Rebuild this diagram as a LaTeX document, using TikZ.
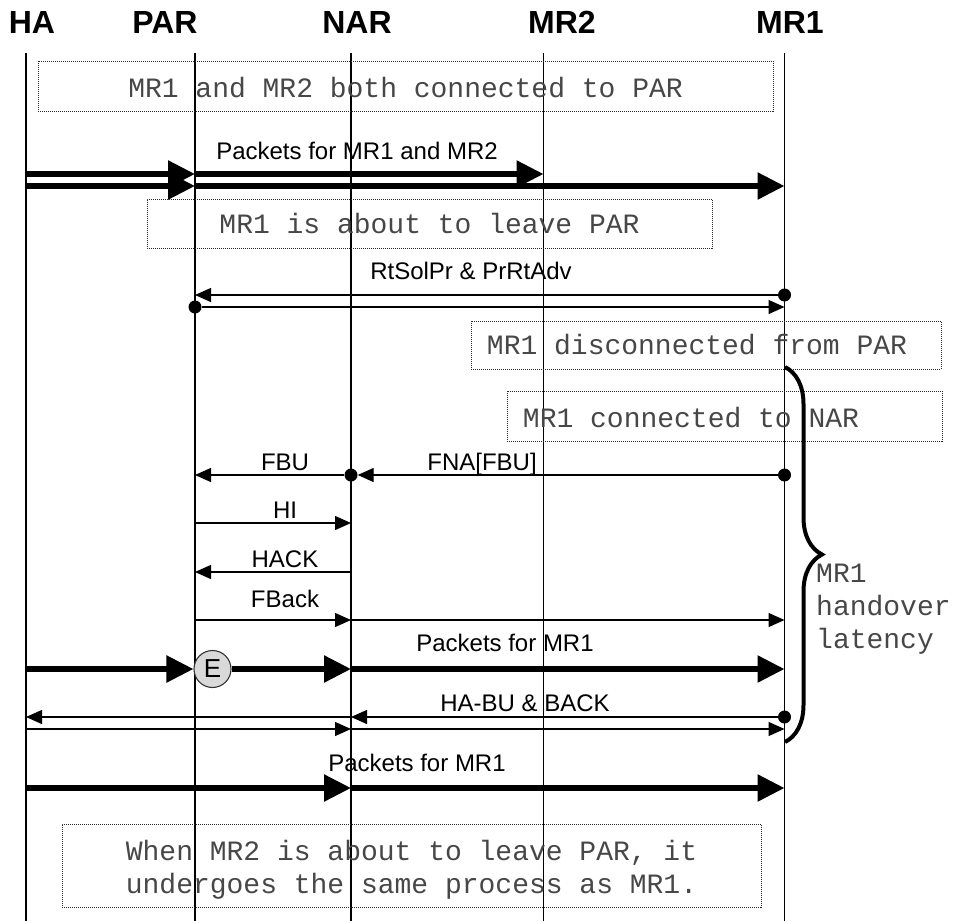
\documentclass[tikz,border=0pt]{standalone}
\usepackage{fontspec}
\setmainfont{Liberation Sans}
\newfontfamily\notefont{Liberation Mono}
\usetikzlibrary{arrows.meta,decorations.pathreplacing}

\begin{document}
\begin{tikzpicture}[x=1pt,y=-1pt,
  lifeline/.style={line width=1.3pt},
  msg/.style={line width=1.3pt,-{Triangle[length=16pt,width=14pt]}},
  flow/.style={line width=5.5pt,-{Triangle[length=27pt,width=26pt]}},
  dot/.style={circle,fill=black,inner sep=0pt,minimum size=13pt},
  header/.style={font=\fontsize{32}{38}\selectfont\bfseries,anchor=base,inner sep=0pt},
  lbl/.style={font=\fontsize{24}{28}\selectfont,anchor=base,inner sep=0pt},
  enode/.style={circle,draw=black!80,line width=1.1pt,fill=black!15,inner sep=0pt,minimum size=37pt,font=\fontsize{26}{30}\selectfont},
  note/.style={draw=black!85,line width=1pt,dash pattern=on 1pt off 1pt,inner sep=0pt},
  notetext/.style={font=\notefont\fontsize{28}{33}\selectfont,text=black!72,anchor=base,inner sep=0pt},
  ]
% canvas
\fill[white] (0,0) rectangle (953,921);
\useasboundingbox (0,0) rectangle (953,921);

% entity names
\node[header] (hHA)  at (32,33)  {HA};
\node[header] (hPAR) at (165,33) {PAR};
\node[header] (hNAR) at (357,33) {NAR};
\node[header] (hMR2) at (562,33) {MR2};
\node[header] (hMR1) at (790,33) {MR1};

% lifelines
\coordinate (ha)  at (26,53);
\coordinate (par) at (195,53);
\coordinate (nar) at (351,53);
\coordinate (mr2) at (543.5,53);
\coordinate (mr1) at (784.5,53);
\coordinate (end) at (0,921);
\foreach \l in {ha,par,nar,mr2,mr1}
  \draw[lifeline] (\l) -- (\l|-end);

% state notes
\node[note,minimum width=735pt,minimum height=50pt] (n1) at (405.5,86) {};
\node[notetext] (t1) at (405.5,97) {MR1 and MR2 both connected to PAR};
\node[note,minimum width=565pt,minimum height=49pt] (n2) at (429.5,223.5) {};
\node[notetext] (t2) at (429.5,233) {MR1 is about to leave PAR};
\node[note,minimum width=470pt,minimum height=48pt] (n3) at (706,345) {};
\node[notetext] (t3) at (697,354) {MR1 disconnected from PAR};
\node[note,minimum width=435pt,minimum height=50pt] (n4) at (724.5,416) {};
\node[notetext] (t4) at (691,427) {MR1 connected to NAR};
\node[note,minimum width=699pt,minimum height=83pt] (n5) at (411.5,865.5) {};
\node[notetext] (t5a) at (411.5,860) {When MR2 is about to leave PAR, it};
\node[notetext] (t5b) at (411.5,893) {undergoes the same process as MR1.};

% packets for both routers
\coordinate (rA) at (0,174);
\coordinate (rB) at (0,186);
\draw[flow] (ha|-rA) -- (par|-rA);
\draw[flow] (ha|-rB) -- (par|-rB);
\draw[flow] (par|-rA) -- (mr2|-rA);
\draw[flow] (par|-rB) -- (mr1|-rB);
\node[lbl] (lA) at (357,159) {Packets for MR1 and MR2};

% router solicitation / advertisement
\coordinate (rC) at (0,295);
\coordinate (rD) at (0,307);
\node[dot] (d1) at (mr1|-rC) {};
\draw[msg] (d1) -- (par|-rC);
\node[dot] (d2) at (par|-rD) {};
\draw[msg] (d2) -- (mr1|-rD);
\node[lbl] (lC) at (471,279) {RtSolPr \& PrRtAdv};

% fast binding update
\coordinate (rE) at (0,475);
\node[dot] (d3) at (nar|-rE) {};
\node[dot] (d4) at (mr1|-rE) {};
\draw[msg] (d3) -- (par|-rE);
\draw[msg] (d4) -- (d3);
\node[lbl] (lE1) at (285,470) {FBU};
\node[lbl] (lE2) at (482,470) {FNA[FBU]};

% handover initiation
\coordinate (rF) at (0,523);
\draw[msg] (par|-rF) -- (nar|-rF);
\node[lbl] (lF) at (285,518) {HI};
\coordinate (rG) at (0,572);
\draw[msg] (nar|-rG) -- (par|-rG);
\node[lbl] (lG) at (285,567) {HACK};
\coordinate (rH) at (0,620);
\draw[msg] (par|-rH) -- (nar|-rH);
\draw[msg] (nar|-rH) -- (mr1|-rH);
\node[lbl] (lH) at (285,607) {FBack};

% buffered packets
\node[enode] (E) at (212.5,669) {E};
\draw[flow] (ha|-E) -- (E.west);
\draw[flow] (E.east) -- (nar|-E);
\draw[flow] (nar|-E) -- (mr1|-E);
\node[lbl] (lI) at (505,651) {Packets for MR1};

% home agent binding update
\coordinate (rJ) at (0,717);
\coordinate (rK) at (0,729);
\node[dot] (d5) at (mr1|-rJ) {};
\draw[msg] (d5) -- (nar|-rJ);
\draw[msg] (nar|-rJ) -- (ha|-rJ);
\draw[msg] (ha|-rK) -- (nar|-rK);
\draw[msg] (nar|-rK) -- (mr1|-rK);
\node[lbl] (lJ) at (525,711) {HA-BU \& BACK};

% packets via new router
\coordinate (rL) at (0,788);
\draw[flow] (ha|-rL) -- (nar|-rL);
\draw[flow] (nar|-rL) -- (mr1|-rL);
\node[lbl] (lL) at (417,771) {Packets for MR1};

% handover latency brace
\coordinate (bt) at (785,367);
\coordinate (bb) at (785,742);
\draw[line width=4pt,decorate,decoration={brace,amplitude=37pt}] (bt) -- (bb);
\node[notetext,anchor=base west] (lat1) at (816,582) {MR1};
\node[notetext,anchor=base west] (lat2) at (816,615) {handover};
\node[notetext,anchor=base west] (lat3) at (816,648) {latency};
\end{tikzpicture}
\end{document}
